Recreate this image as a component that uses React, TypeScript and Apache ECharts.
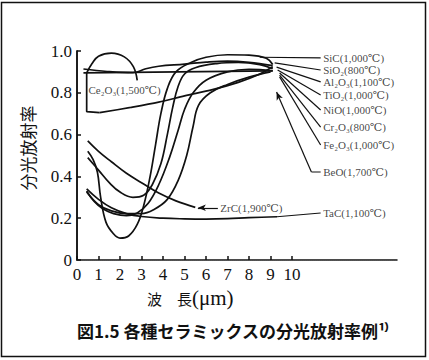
import React, { useEffect, useRef } from "react";
import * as echarts from "echarts";

// axis ticks
const xTicks = [0, 1, 2, 3, 4, 5, 6, 7, 8, 9, 10];
const yTicks = [0, 0.2, 0.4, 0.6, 0.8, 1.0];

// curves: [wavelength (μm), spectral emissivity]
const ce2o3Loop = [[2.8, 0.86], [2.62, 0.925], [2.2, 0.972], [1.6, 0.99], [1.0, 0.975], [0.7, 0.94], [0.45, 0.895]];
const ce2o3Base = [[0.45, 0.895], [0.45, 0.71], [1.05, 0.705]];
const ce2o3Rise = [[1.05, 0.705], [2.5, 0.73], [3.8, 0.755], [5.0, 0.785], [6.3, 0.815], [7.5, 0.85], [8.4, 0.885], [9.1, 0.925]];
const flatLine = [[0.3, 0.895], [9.1, 0.905]];
const wavyLine = [[0.3, 0.914], [1.4, 0.902], [2.6, 0.896], [3.2, 0.915], [3.8, 0.927], [5.0, 0.937], [6.0, 0.947], [7.0, 0.952], [8.0, 0.946], [9.1, 0.93]];
const deepV = [[0.5, 0.52], [0.75, 0.48], [0.95, 0.42], [1.1, 0.3], [1.35, 0.18], [1.7, 0.125], [2.0, 0.105], [2.4, 0.115], [2.8, 0.17], [3.1, 0.26], [3.4, 0.4], [3.65, 0.55], [3.9, 0.7], [4.2, 0.82], [4.6, 0.9], [5.3, 0.945], [6.0, 0.97], [7.0, 0.982], [8.0, 0.98], [8.8, 0.965], [9.1, 0.935]];
const uCurveB = [[0.5, 0.49], [1.0, 0.43], [1.5, 0.37], [2.0, 0.325], [2.6, 0.3], [3.1, 0.31], [3.5, 0.36], [3.9, 0.46], [4.2, 0.6], [4.45, 0.73], [4.7, 0.83], [5.0, 0.89], [5.5, 0.92], [6.5, 0.94], [7.5, 0.945], [8.5, 0.935], [9.1, 0.915]];
const zrc = [[0.5, 0.57], [1.0, 0.52], [1.6, 0.47], [2.3, 0.415], [3.0, 0.37], [3.8, 0.32], [4.6, 0.283], [5.5, 0.252]];
const tac = [[0.45, 0.34], [1.0, 0.29], [1.6, 0.25], [2.3, 0.222], [3.0, 0.208], [4.0, 0.2], [5.0, 0.197], [6.0, 0.196], [7.0, 0.198], [8.0, 0.203], [9.3, 0.207]];
const uCurveE = [[0.45, 0.33], [0.8, 0.28], [1.2, 0.245], [1.7, 0.222], [2.3, 0.212], [2.8, 0.225], [3.3, 0.27], [3.8, 0.36], [4.3, 0.49], [4.7, 0.62], [5.0, 0.72], [5.4, 0.8], [6.0, 0.86], [7.0, 0.9], [8.0, 0.912], [9.1, 0.905]];
const uCurveF = [[0.45, 0.325], [1.0, 0.265], [1.6, 0.235], [2.3, 0.222], [3.0, 0.222], [3.6, 0.243], [4.2, 0.29], [4.7, 0.38], [5.1, 0.5], [5.4, 0.64], [5.65, 0.74], [6.2, 0.8], [7.0, 0.84], [8.0, 0.875], [9.0, 0.9]];

// label leaders
const leaderNames = ["SiC(1,000℃)", "SiO₂(800℃)", "Al₂O₃(1,100℃)", "TiO₂(1,000℃)", "NiO(1,000℃)", "Cr₂O₃(800℃)", "Fe₂O₃(1,000℃)"];
const leaderStarts = [[8.5, 0.97], [9.19, 0.943], [9.28, 0.923], [9.33, 0.909], [9.42, 0.895], [9.42, 0.885], [9.42, 0.876]];
const leaderEnds = [[11.33, 0.967], [11.33, 0.909], [11.33, 0.852], [11.33, 0.789], [11.33, 0.718], [11.33, 0.636], [11.33, 0.55]];
const beoArrow = [[10.9, 0.421], [9.28, 0.804]];
const beoLeader = [[10.9, 0.421], [11.33, 0.421]];
const tacLeader = [[9.3, 0.207], [11.33, 0.225]];
const zrcArrow = [[6.55, 0.25], [5.62, 0.25]];
const otherLabels = [
  { name: "BeO(1,700℃)", at: [11.33, 0.421] },
  { name: "TaC(1,100℃)", at: [11.33, 0.225] },
  { name: "ZrC(1,900℃)", at: [6.55, 0.25] },
  { name: "Ce₂O₃(1,500℃)", at: [0.42, 0.813] },
];

const serif = "'Liberation Serif', 'DejaVu Serif', serif";
const cjk = "'Noto Sans CJK JP', sans-serif";

export default function App() {
  const ref = useRef<HTMLDivElement>(null);
  useEffect(() => {
    if (!ref.current) return;
    const chart = echarts.init(ref.current, null, { renderer: "svg" });
    const curve = (data: number[][], smooth: number | boolean = 0.4) => ({
      type: "line",
      data,
      smooth,
      symbol: "none",
      showSymbol: false,
      silent: true,
      lineStyle: { color: "#111", width: 1.7 },
      z: 3,
    });
    const leader = (data: number[][]) => ({
      type: "line",
      data,
      smooth: false,
      symbol: "none",
      showSymbol: false,
      silent: true,
      lineStyle: { color: "#111", width: 1.2 },
      z: 3,
    });
    const arrowLine = (pts: number[][]) => ({
      type: "line",
      data: [],
      silent: true,
      markLine: {
        silent: true,
        symbol: ["none", "arrow"],
        symbolSize: [5, 8],
        label: { show: false },
        lineStyle: { color: "#111", width: 1.2, type: "solid" },
        data: [[{ coord: pts[0] }, { coord: pts[1] }]],
      },
    });
    const labelData = [
      ...leaderNames.map((n, i) => ({ name: n, value: leaderEnds[i] })),
      ...otherLabels.map((o) => ({ name: o.name, value: o.at })),
    ];
    const option: any = {
      animation: false,
      grid: { left: 77, right: 32, top: 51, bottom: 100 },
      xAxis: [
        {
          type: "value",
          min: 0,
          max: 14.88,
          axisLine: { show: true, lineStyle: { color: "#111", width: 1.5 } },
          axisTick: { show: true, inside: true, length: 4, customValues: xTicks, lineStyle: { color: "#111", width: 1.5 } },
          axisLabel: { show: true, customValues: xTicks, margin: 6, fontFamily: serif, fontSize: 17, color: "#111" },
          splitLine: { show: false },
        },
        {
          type: "value",
          position: "top",
          min: 0,
          max: 14.88,
          axisLine: { show: true, lineStyle: { color: "#555", width: 1, type: "dotted" } },
          axisTick: { show: false },
          axisLabel: { show: false },
          splitLine: { show: false },
        },
      ],
      yAxis: [
        {
          type: "value",
          min: 0,
          max: 1,
          interval: 0.2,
          axisLine: { show: true, lineStyle: { color: "#111", width: 1.5 } },
          axisTick: { show: true, inside: true, length: 4, customValues: yTicks, lineStyle: { color: "#111", width: 1.5 } },
          axisLabel: {
            margin: 5,
            fontFamily: serif,
            fontSize: 17,
            color: "#111",
            formatter: (v: number) => (v === 0 ? "0" : v.toFixed(1)),
          },
          splitLine: { show: false },
        },
        {
          type: "value",
          position: "right",
          min: 0,
          max: 1,
          interval: 0.2,
          axisLine: { show: true, lineStyle: { color: "#111", width: 1.5 } },
          axisTick: { show: false },
          axisLabel: { show: false },
          splitLine: { show: false },
        },
      ],
      series: [
        curve(ce2o3Loop),
        curve(ce2o3Base, false),
        curve(ce2o3Rise, 0.3),
        curve(flatLine, false),
        curve(wavyLine),
        curve(deepV),
        curve(uCurveB),
        curve(zrc),
        curve(tac),
        curve(uCurveE),
        curve(uCurveF),
        ...leaderStarts.map((s, i) => leader([s, leaderEnds[i]])),
        leader(beoLeader),
        leader(tacLeader),
        arrowLine(beoArrow),
        arrowLine(zrcArrow),
        {
          type: "scatter",
          data: labelData,
          symbolSize: 1,
          itemStyle: { color: "rgba(0,0,0,0)" },
          silent: true,
          label: {
            show: true,
            position: "right",
            distance: 2,
            formatter: (p: any) => p.name,
            fontFamily: serif,
            fontSize: 11,
            color: "#111",
          },
          z: 5,
        },
      ],
      graphic: [
        {
          type: "rect",
          shape: { x: 1.5, y: 2.5, width: 424, height: 354 },
          style: { fill: "none", stroke: "#111", lineWidth: 1.5 },
          silent: true,
        },
        {
          type: "text",
          x: 27,
          y: 148,
          rotation: Math.PI / 2,
          style: { text: "分光放射率", font: `17px ${cjk}`, fill: "#111", textAlign: "center", textVerticalAlign: "middle" },
          silent: true,
        },
        {
          type: "text",
          x: 147,
          y: 298,
          style: {
            text: "波　長{b|(μm)}",
            font: `15px ${cjk}`,
            fill: "#111",
            textAlign: "left",
            textVerticalAlign: "middle",
            rich: { b: { fontFamily: serif, fontSize: 21, fill: "#111" } },
          },
          silent: true,
        },
        {
          type: "text",
          x: 77,
          y: 330,
          style: {
            text: "図1.5 各種セラミックスの分光放射率例¹⁾",
            font: `bold 17px ${cjk}`,
            fill: "#111",
            textAlign: "left",
            textVerticalAlign: "middle",
          },
          silent: true,
        },
      ],
    };
    chart.setOption(option);
    return () => chart.dispose();
  }, []);
  return <div ref={ref} style={{ position: "fixed", left: 0, top: 0, width: 429, height: 360, background: "#fff" }} />;
}
